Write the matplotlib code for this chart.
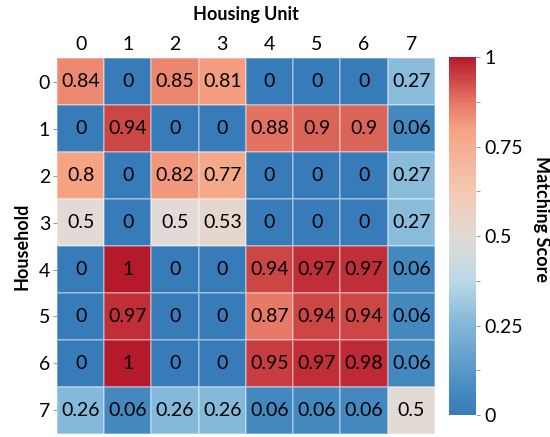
import numpy as np
import matplotlib
matplotlib.use("Agg")
import matplotlib.pyplot as plt
from matplotlib.colors import LinearSegmentedColormap
from matplotlib.ticker import FixedLocator

# matching scores, rows = household, cols = housing unit
row_labels = ["0", "1", "2", "3", "4", "5", "6", "7"]
col_labels = ["0", "1", "2", "3", "4", "5", "6", "7"]
scores = [
    [0.84, 0, 0.85, 0.81, 0, 0, 0, 0.27],
    [0, 0.94, 0, 0, 0.88, 0.9, 0.9, 0.06],
    [0.8, 0, 0.82, 0.77, 0, 0, 0, 0.27],
    [0.5, 0, 0.5, 0.53, 0, 0, 0, 0.27],
    [0, 1, 0, 0, 0.94, 0.97, 0.97, 0.06],
    [0, 0.97, 0, 0, 0.87, 0.94, 0.94, 0.06],
    [0, 1, 0, 0, 0.95, 0.97, 0.98, 0.06],
    [0.26, 0.06, 0.26, 0.26, 0.06, 0.06, 0.06, 0.5],
]
cbar_ticks = [0, 0.25, 0.5, 0.75, 1]
cbar_ticklabels = ["0", "0.25", "0.5", "0.75", "1"]

plt.rcParams["font.family"] = ["Lato", "DejaVu Sans"]

# colours (muted RdBu)
cmap = LinearSegmentedColormap.from_list("muted_rdbu", [
    (0.00, "#377bb9"),
    (0.06, "#4488c0"),
    (0.27, "#89bcdb"),
    (0.375, "#bcd9e6"),
    (0.50, "#e1dad6"),
    (0.625, "#f3c9b3"),
    (0.80, "#f5a383"),
    (0.88, "#e47462"),
    (0.94, "#cc4747"),
    (1.00, "#b51a2c"),
])

data = np.array(scores)

fig = plt.figure(figsize=(5.5, 4.37), dpi=100)
ax = fig.add_axes([0.1036, 0.007, 0.687, 0.860])
cax = fig.add_axes([0.816, 0.050, 0.049, 0.819])

mesh = ax.pcolormesh(data, cmap=cmap, vmin=0, vmax=1,
                     edgecolor=(1, 1, 1, 0.3), linewidth=0.3)
ax.set_xlim(0, data.shape[1])
ax.set_ylim(data.shape[0], 0)

for i in range(data.shape[0]):
    for j in range(data.shape[1]):
        ax.text(j + 0.5, i + 0.5, f"{data[i, j]:g}",
                ha="center", va="center", fontsize=14, color="black")

ax.xaxis.tick_top()
ax.xaxis.set_label_position("top")
ax.set_xticks(np.arange(len(col_labels)) + 0.5)
ax.set_xticklabels(col_labels, fontsize=14)
ax.set_yticks(np.arange(len(row_labels)) + 0.5)
ax.set_yticklabels(row_labels, fontsize=14, rotation=0)
ax.tick_params(axis="x", length=0, pad=4)
ax.tick_params(axis="y", length=3, width=0.6, color="#888888", pad=2)
ax.set_xlabel("Housing Unit", fontsize=13, fontweight="bold", labelpad=11)
ax.set_ylabel("Household", fontsize=13, fontweight="bold", labelpad=6)
for s in ax.spines.values():
    s.set_visible(False)

cb = fig.colorbar(mesh, cax=cax)
cb.outline.set_visible(False)
cb.set_ticks(cbar_ticks)
cb.set_ticklabels(cbar_ticklabels)
cax.yaxis.set_minor_locator(FixedLocator(np.arange(0.125, 1, 0.25)))
cax.tick_params(which="both", length=3, width=0.6, color="#888888",
                labelsize=14, pad=3)
fig.text(0.985, 0.5, "Matching Score", rotation=270, fontsize=13,
         fontweight="bold", ha="center", va="center")

plt.savefig("out.png", dpi=100)
plt.close(fig)
